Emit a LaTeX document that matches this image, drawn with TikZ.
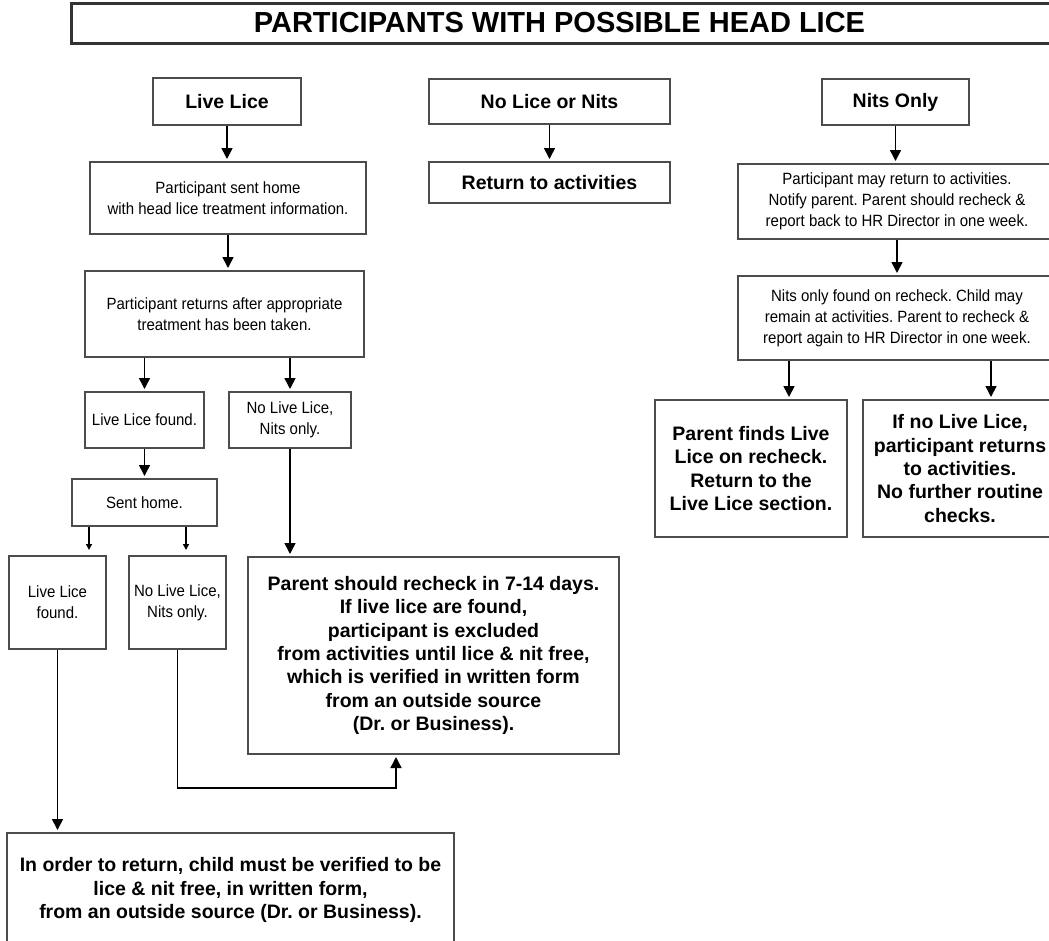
\documentclass[tikz,border=0pt]{standalone}
\usepackage{fontspec}
\setmainfont{Liberation Sans}
\newfontfamily\narrowsans[FakeStretch=0.92]{Liberation Sans}
\usetikzlibrary{arrows.meta}
\frenchspacing
\tikzset{
  box/.style={draw=black!70,line width=2pt,fill=white,align=center,inner sep=0pt},
  boldbox/.style={box,font=\bfseries\fontsize{19.5}{23.3}\selectfont},
  plainbox/.style={box,font=\narrowsans\fontsize{16.3}{21}\selectfont},
  arr/.style={-{Triangle[length=11pt,width=11pt]},line width=1.6pt,shorten >=2pt},
  smallarr/.style={-{Triangle[length=6pt,width=6pt]},line width=1.4pt,shorten >=5pt},
}
\begin{document}
\begin{tikzpicture}[x=1pt,y=-1pt]
\useasboundingbox (0,0) rectangle (1049,940);
% Title
\node[draw=black!80,line width=3pt,minimum width=1010pt,minimum height=40pt,anchor=west,
  font=\bfseries\fontsize{29}{30}\selectfont] (title) at (70,23) {\hspace*{-34pt}PARTICIPANTS WITH POSSIBLE HEAD LICE};
% Live lice column
\node[boldbox,minimum width=148pt,minimum height=47pt] (live) at (227,101.5) {Live Lice};
\node[plainbox,minimum width=276pt,minimum height=72pt] (sent) at (228,198) {Participant sent home\\with head lice treatment information.};
\node[plainbox,minimum width=279pt,minimum height=86pt] (ret) at (224.5,314) {Participant returns after appropriate\\treatment has been taken.};
\node[plainbox,minimum width=119pt,minimum height=56pt] (found1) at (144.5,420) {Live Lice found.};
\node[plainbox,minimum width=122pt,minimum height=56pt] (nits1) at (290,420) {No Live Lice,\\Nits only.};
\node[plainbox,minimum width=145pt,minimum height=47pt] (home) at (144.5,502.5) {Sent home.};
\node[plainbox,minimum width=97pt,minimum height=93pt] (found2) at (57.5,602.5) {Live Lice\\found.};
\node[plainbox,minimum width=97pt,minimum height=93pt] (nits2) at (177.5,602.5) {No Live Lice,\\Nits only.};
\node[boldbox,minimum width=371pt,minimum height=197pt] (recheck) at (433.5,655.5) {Parent should recheck in 7-14 days.\\If live lice are found,\\participant is excluded\\from activities until lice \& nit free,\\which is verified in written form\\from an outside source\\(Dr. or Business).};
\node[boldbox,minimum width=447pt,minimum height=114pt] (verify) at (230.5,890) {In order to return, child must be verified to be\\lice \& nit free, in written form,\\from an outside source (Dr. or Business).};
% No lice column
\node[boldbox,minimum width=241pt,minimum height=45pt] (none) at (549.5,101.5) {No Lice or Nits};
\node[boldbox,minimum width=241pt,minimum height=41pt] (back) at (549.5,182.5) {Return to activities};
% Nits only column
\node[boldbox,minimum width=147pt,minimum height=46pt] (nits) at (895.5,102) {Nits Only};
\node[plainbox,minimum width=318pt,minimum height=75pt] (may) at (897,201.5) {Participant may return to activities.\\Notify parent. Parent should recheck \&\\report back to HR Director in one week.};
\node[plainbox,minimum width=318pt,minimum height=84pt] (found3) at (897,318) {Nits only found on recheck. Child may\\remain at activities. Parent to recheck \&\\report again to HR Director in one week.};
\node[boldbox,minimum width=192pt,minimum height=137pt] (pfind) at (751,468.5) {Parent finds Live\\Lice on recheck.\\Return to the\\Live Lice section.};
\node[boldbox,minimum width=194pt,minimum height=137pt] (nolice) at (960,468.5) {If no Live Lice,\\participant returns\\to activities.\\No further routine\\checks.};
% Arrows
\draw[arr] (live.south) -- (live.south |- sent.north);
\draw[arr] (sent.south) -- (sent.south |- ret.north);
\draw[arr] (found1.north |- ret.south) -- (found1.north);
\draw[arr] (nits1.north |- ret.south) -- (nits1.north);
\draw[arr] (found1.south) -- (found1.south |- home.north);
\draw[smallarr] ([xshift=31.5pt]found2.north |- home.south) -- ([xshift=31.5pt]found2.north);
\draw[smallarr] ([xshift=8.5pt]nits2.north |- home.south) -- ([xshift=8.5pt]nits2.north);
\draw[arr] (found2.south) -- (found2.south |- verify.north);
\draw[arr] (nits2.south) -- ++(0,138) -| ([xshift=-37.5pt]recheck.south);
\draw[arr] (nits1.south) -- (nits1.south |- recheck.north);
\draw[arr] (none.south) -- (back.north);
\draw[arr] (nits.south) -- (nits.south |- may.north);
\draw[arr] (may.south) -- (found3.north);
\draw[arr] ([xshift=38pt]pfind.north |- found3.south) -- ([xshift=38pt]pfind.north);
\draw[arr] ([xshift=31pt]nolice.north |- found3.south) -- ([xshift=31pt]nolice.north);
\end{tikzpicture}
\end{document}
